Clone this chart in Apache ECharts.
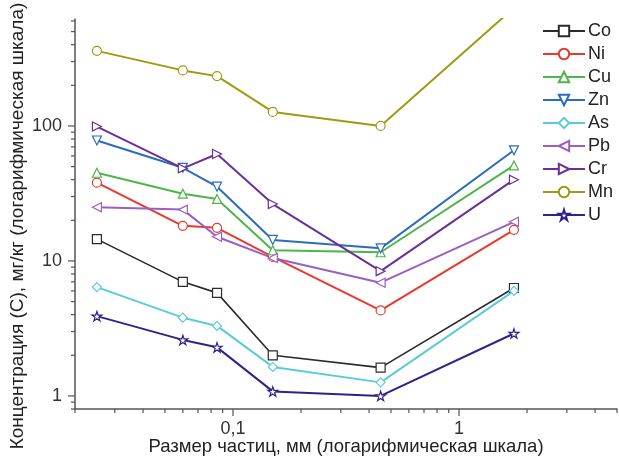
<!DOCTYPE html>
<html>
<head>
<meta charset="utf-8">
<script src="https://cdn.jsdelivr.net/npm/echarts@6/dist/echarts.min.js"></script>
<style>
  html, body { margin: 0; padding: 0; background: #fff; }
  #chart { width: 619px; height: 459px; }
</style>
</head>
<body>
<div id="chart"></div>
<script>
// размер частиц, мм
const sizes = [0.025, 0.06, 0.085, 0.15, 0.45, 1.75]

const elements = ['Co', 'Ni', 'Cu', 'Zn', 'As', 'Pb', 'Cr', 'Mn', 'U']
const Co = [14.5, 7.0, 5.8, 2.0, 1.62, 6.3]
const Ni = [38, 18.2, 17.6, 10.7, 4.3, 17]
const Cu = [45, 31.5, 28.8, 12, 11.6, 51]
const Zn = [78, 49, 35.5, 14.3, 12.4, 66]
const As = [6.4, 3.8, 3.3, 1.64, 1.26, 6.0]
const Pb = [25, 24, 15.1, 10.5, 6.9, 19.5]
const Cr = [99, 48.5, 62, 26.4, 8.4, 40]
const Mn = [360, 258, 234, 127, 100, 750]
const U = [3.9, 2.6, 2.29, 1.08, 1.0, 2.9]
const values = { Co, Ni, Cu, Zn, As, Pb, Cr, Mn, U }

// деления осей
const xMajorTicks = [0.1, 1]
const xMinorTicks = [0.02, 0.03, 0.04, 0.05, 0.06, 0.07, 0.08, 0.09, 0.2, 0.3, 0.4, 0.5, 0.6, 0.7, 0.8, 0.9, 2, 3, 4, 5]
const yMajorTicks = [1, 10, 100]
const yMinorTicks = [0.8, 0.9, 2, 3, 4, 5, 6, 7, 8, 9, 20, 30, 40, 50, 60, 70, 80, 90, 200, 300, 400, 500, 600]

const xMin = 0.02
const xMax = 5
const yMin = 0.8
const yMax = 620

const colors = {
  Co: '#2b2b2b',
  Ni: '#e8392d',
  Cu: '#4cb649',
  Zn: '#2a6dbd',
  As: '#5ccadb',
  Pb: '#9b5fc2',
  Cr: '#6a2f98',
  Mn: '#a09914',
  U: '#34208a'
}
const symbols = {
  Co: ['rect', 0],
  Ni: ['circle', 0],
  Cu: ['triangle', 0],
  Zn: ['triangle', 180],
  As: ['diamond', 0],
  Pb: ['triangle', 90],
  Cr: ['triangle', -90],
  Mn: ['circle', 0],
  U: ['path://M50,0 L61,35 L98,35 L68,57 L79,91 L50,70 L21,91 L32,57 L2,35 L39,35 Z', 0]
}

const font = 'Liberation Sans, Arial, sans-serif'
const axisColor = '#555'

const chart = echarts.init(document.getElementById('chart'), null, { renderer: 'canvas' })

const getSeries = (name) => {
  return {
    name,
    type: 'line',
    data: sizes.map((s, i) => [s, values[name][i]]),
    symbol: symbols[name][0],
    symbolRotate: symbols[name][1],
    symbolKeepAspect: true,
    symbolSize: name === 'U' ? 10 : 9,
    showAllSymbol: true,
    lineStyle: { color: colors[name], width: name === 'Co' ? 1.6 : 2 },
    itemStyle: { color: '#fff', borderColor: colors[name], borderWidth: 1.2 },
    emphasis: { disabled: true },
    z: 3
  }
}

// деления рисуем сами: у логарифмической оси нужны 2..9 внутри декады
const tickSeries = (ticks, axis, len) => {
  return {
    type: 'custom',
    silent: true,
    clip: false,
    z: 5,
    data: ticks.map((t) => (axis === 'x' ? [t, yMin] : [xMin, t])),
    renderItem: (params, api) => {
      const p = api.coord([api.value(0), api.value(1)])
      const shape = axis === 'x'
        ? { x1: p[0], y1: p[1], x2: p[0], y2: p[1] + len }
        : { x1: p[0], y1: p[1], x2: p[0] - len, y2: p[1] }
      return { type: 'line', shape, style: { stroke: axisColor, lineWidth: 1.2 } }
    }
  }
}

const option = {
  animation: false,
  textStyle: { fontFamily: font },
  grid: { left: 75, right: 2, top: 19, bottom: 50, outerBoundsMode: 'none' },
  legend: {
    orient: 'vertical',
    left: 537,
    top: 17,
    itemWidth: 42,
    itemHeight: 13,
    itemGap: 5,
    data: elements,
    textStyle: { fontSize: 18, color: '#222', fontFamily: font, padding: [0, 0, 0, -2] }
  },
  xAxis: {
    type: 'log',
    logBase: 10,
    min: xMin,
    max: xMax,
    name: 'Размер частиц, мм (логарифмическая шкала)',
    nameLocation: 'middle',
    nameGap: 28,
    nameMoveOverlap: false,
    nameTextStyle: { fontSize: 18.5, color: '#222', fontFamily: font },
    axisLine: { lineStyle: { color: axisColor, width: 1.5 } },
    axisTick: { show: false },
    splitLine: { show: false },
    axisLabel: {
      fontSize: 18,
      color: '#333',
      margin: 11,
      showMinLabel: false,
      showMaxLabel: false,
      formatter: (v) => String(v).replace('.', ',')
    }
  },
  yAxis: {
    type: 'log',
    logBase: 10,
    min: yMin,
    max: yMax,
    name: 'Концентрация (С), мг/кг (логарифмическая шкала)',
    nameLocation: 'middle',
    nameGap: 48,
    nameMoveOverlap: false,
    nameTextStyle: { fontSize: 19, color: '#222', fontFamily: font, padding: [0, 24, 0, 0] },
    axisLine: { lineStyle: { color: axisColor, width: 1.5 } },
    axisTick: { show: false },
    splitLine: { show: false },
    axisLabel: {
      fontSize: 18,
      color: '#333',
      margin: 13,
      showMinLabel: false,
      showMaxLabel: false
    }
  },
  series: [
    ...elements.map((name) => getSeries(name)),
    tickSeries(xMajorTicks, 'x', 7),
    tickSeries(xMinorTicks, 'x', 4),
    tickSeries(yMajorTicks, 'y', 7),
    tickSeries(yMinorTicks, 'y', 4)
  ]
}

chart.setOption(option)
</script>
</body>
</html>
